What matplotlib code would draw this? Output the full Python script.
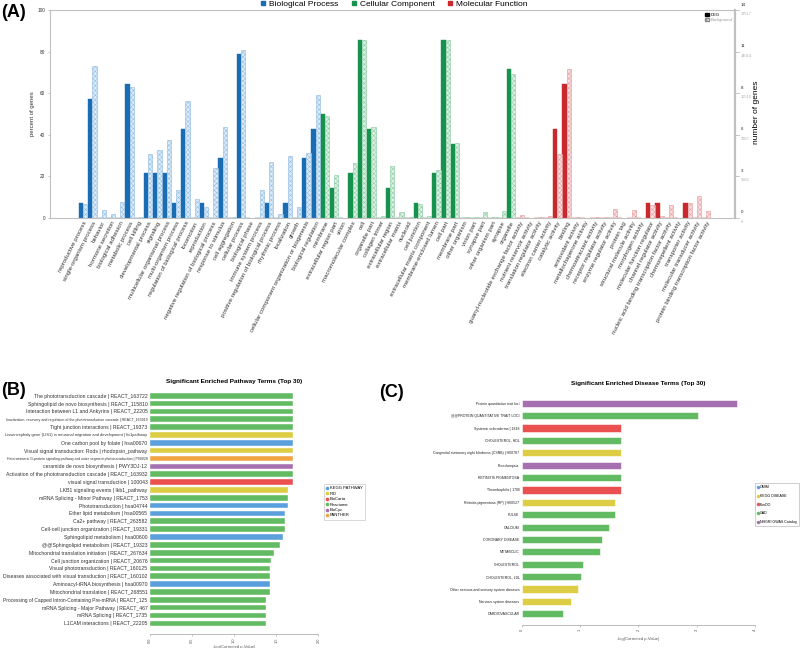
import matplotlib
matplotlib.use('Agg')
import matplotlib.pyplot as plt
from matplotlib.patches import Patch
from matplotlib.lines import Line2D
import numpy as np

plt.rcParams['font.family'] = ['Liberation Sans', 'DejaVu Sans']
plt.rcParams['hatch.linewidth'] = 0.35

# ---------------- panel A data (GO level 2) ----------------
bp_terms = ['reproductive process', 'single-organism process', 'behavior', 'hormone secretion',
            'biological adhesion', 'metabolic process', 'cell killing', 'developmental process',
            'signaling', 'multicellular organismal process', 'multi-organism process',
            'regulation of biological process', 'locomotion', 'reproduction',
            'negative regulation of biological process', 'response to stimulus', 'cell aggregation',
            'cellular process', 'biological phase', 'immune system process',
            'positive regulation of biological process', 'rhythmic process', 'localization', 'growth',
            'cellular component organization or biogenesis', 'biological regulation']
bp_deg = [7.1, 57.1, 0, 0, 0, 64.3, 0, 21.4, 21.4, 21.4, 7.1, 42.9, 0, 7.1, 0, 28.6, 0,
          78.6, 0, 0, 7.1, 0, 7.1, 0, 28.6, 42.9]
bp_bg = [6.6, 73.0, 3.7, 1.8, 7.7, 62.8, 0.5, 30.7, 32.7, 37.3, 13.3, 56.3, 9.0, 5.0, 23.8, 43.7, 0.3,
         80.7, 0, 13.2, 26.8, 1.8, 29.7, 5.0, 31.2, 58.9]

cc_terms = ['membrane', 'extracellular region part', 'virion', 'macromolecular complex', 'cell',
            'organelle part', 'collagen trimer', 'extracellular region', 'extracellular matrix',
            'nucleoid', 'cell junction', 'extracellular matrix component', 'membrane-enclosed lumen',
            'cell part', 'membrane part', 'other organism', 'virion part', 'synapse part',
            'other organism part', 'synapse', 'organelle']
cc_deg = [50.0, 14.3, 0, 21.4, 85.7, 42.9, 0, 14.3, 0, 0, 7.1, 0, 21.4, 85.7, 35.7, 0, 0, 0, 0, 0, 71.4]
cc_bg = [48.8, 20.7, 0, 26.3, 85.5, 43.8, 0.8, 24.7, 2.6, 0.3, 6.6, 0.8, 23.0, 85.4, 35.8, 0.2, 0.2,
         2.6, 0.2, 3.4, 69.2]

mf_terms = ['guanyl-nucleotide exchange factor activity', 'nutrient reservoir activity',
            'translation regulator activity', 'electron carrier activity', 'catalytic activity',
            'binding', 'antioxidant activity', 'metallochaperone activity', 'chemoattractant activity',
            'receptor regulator activity', 'enzyme regulator activity', 'protein tag',
            'structural molecule activity', 'morphogen activity', 'molecular function regulator',
            'channel regulator activity', 'nucleic acid binding transcription factor activity',
            'chemorepellent activity', 'transporter activity', 'molecular transducer activity',
            'protein binding transcription factor activity']
mf_deg = [0, 0, 0, 0, 42.9, 64.3, 0, 0, 0, 0, 0, 0, 0, 0, 7.1, 7.1, 0, 0, 7.1, 0, 0]
mf_bg = [1.3, 0, 0.2, 0.8, 30.5, 71.6, 0.5, 0, 0.2, 0.3, 4.2, 0, 3.7, 0, 6.0, 0.8, 6.1, 0, 6.9, 10.4, 3.2]

right_deg_labels = ['0', '3', '6', '8', '11', '14']
right_bg_labels = ['0', '3503', '7007', '10510', '14014', '17517']

# ---------------- panel B data (pathways) ----------------
pw_terms = ['The phototransduction cascade | REACT_163722',
            'Sphingolipid de novo biosynthesis | REACT_115810',
            'Interaction between L1 and Ankyrins | REACT_22205',
            'Inactivation, recovery and regulation of the phototransduction cascade | REACT_163919',
            'Tight junction interactions | REACT_19373',
            'Lissencephaly gene (LIS1) in neuronal migration and development | lis1pathway',
            'One carbon pool by folate | hsa00670',
            'Visual signal transduction: Rods | rhodopsin_pathway',
            'Heterotrimeric G-protein signaling pathway-rod outer segment phototransduction | P00028',
            'ceramide de novo biosynthesis | PWY3DJ-12',
            'Activation of the phototransduction cascade | REACT_163932',
            'visual signal transduction | 100043',
            'LKB1 signaling events | lkb1_pathway',
            'mRNA Splicing - Minor Pathway | REACT_1753',
            'Phototransduction | hsa04744',
            'Ether lipid metabolism | hsa00565',
            'Ca2+ pathway | REACT_263582',
            'Cell-cell junction organization | REACT_19331',
            'Sphingolipid metabolism | hsa00600',
            '@@Sphingolipid metabolism | REACT_19323',
            'Mitochondrial translation initiation | REACT_267634',
            'Cell junction organization | REACT_20676',
            'Visual phototransduction | REACT_160125',
            'Diseases associated with visual transduction | REACT_160102',
            'Aminoacyl-tRNA biosynthesis | hsa00970',
            'Mitochondrial translation | REACT_268551',
            'Processing of Capped Intron-Containing Pre-mRNA | REACT_125',
            'mRNA Splicing - Major Pathway | REACT_467',
            'mRNA Splicing | REACT_1735',
            'L1CAM interactions | REACT_22205']
pw_vals = [1.70] * 12 + [1.64, 1.64, 1.64, 1.61, 1.61, 1.61, 1.58, 1.55, 1.48, 1.44,
                         1.43, 1.43, 1.43, 1.43, 1.38, 1.38, 1.38, 1.38]
pw_src = ['Reactome'] * 5 + ['PID', 'KEGG PATHWAY', 'PID', 'PANTHER', 'BioCyc', 'Reactome', 'BioCarta',
                             'PID', 'Reactome', 'KEGG PATHWAY', 'KEGG PATHWAY', 'Reactome', 'Reactome',
                             'KEGG PATHWAY', 'Reactome', 'Reactome', 'Reactome', 'Reactome', 'Reactome',
                             'KEGG PATHWAY', 'Reactome', 'Reactome', 'Reactome', 'Reactome', 'Reactome']
pw_db = ['KEGG PATHWAY', 'PID', 'BioCarta', 'Reactome', 'BioCyc', 'PANTHER']

# ---------------- panel C data (diseases) ----------------
ds_terms = ['Protein quantitative trait loci', '@@PROTEIN QUANTITATIVE TRAIT LOCI',
            'Systemic scleroderma | 1818', 'CHOLESTEROL, HDL',
            'Congenital stationary night blindness (CSNB) | H00787', 'Preeclampsia',
            'RETINITIS PIGMENTOSA', 'Thrombophilia | 1706', 'Retinitis pigmentosa (RP) | H00527',
            'PULSE', 'CALCIUM', 'CORONARY DISEASE', 'METABOLIC', 'CHOLESTEROL', 'CHOLESTEROL, LDL',
            'Other nervous and sensory system diseases', 'Nervous system diseases', 'CARDIOVASCULAR']
ds_vals = [3.69, 3.03, 1.70, 1.70, 1.70, 1.70, 1.70, 1.70, 1.60, 1.60, 1.49, 1.37, 1.34, 1.06,
           1.02, 0.97, 0.85, 0.70]
ds_src = ['NHGRI GWAS Catalog', 'GAD', 'FunDO', 'GAD', 'KEGG DISEASE', 'NHGRI GWAS Catalog', 'GAD',
          'FunDO', 'KEGG DISEASE', 'GAD', 'GAD', 'GAD', 'GAD', 'GAD', 'GAD', 'KEGG DISEASE',
          'KEGG DISEASE', 'GAD']
ds_db = ['OMIM', 'KEGG DISEASE', 'FunDO', 'GAD', 'NHGRI GWAS Catalog']

db_colors = {'KEGG PATHWAY': '#5ba0dc', 'PID': '#dccd45', 'BioCarta': '#ea5050', 'Reactome': '#62bb62',
             'BioCyc': '#a66fb0', 'PANTHER': '#f0a444', 'OMIM': '#5ba0dc', 'KEGG DISEASE': '#dccd45',
             'FunDO': '#ea5050', 'GAD': '#62bb62', 'NHGRI GWAS Catalog': '#a66fb0'}

fig = plt.figure(figsize=(8, 6.48), dpi=100)

# ================= panel A =================
axA = fig.add_axes([0.0625, 0.664, 0.85625, 0.3206])
groups = [(bp_terms, bp_deg, bp_bg, '#1a6db3', '#8dbbe2', '#dcebf7'),
          (cc_terms, cc_deg, cc_bg, '#17924e', '#86cba0', '#dcf0e3'),
          (mf_terms, mf_deg, mf_bg, '#c9282d', '#e79a9c', '#f8dede')]
w = 0.46
labels = []
start = 0
for terms, deg, bg, c, hc, fc in groups:
    xs = np.arange(start, start + len(terms))
    axA.bar(xs - w / 2, deg, width=w, color=c, edgecolor=c, linewidth=0.3)
    axA.bar(xs + w / 2, bg, width=w, facecolor=fc, edgecolor=hc, hatch='xxxxxxx', linewidth=0.4)
    labels += terms
    start += len(terms)

axA.set_xlim(-3.55, 70.1)
axA.set_ylim(0, 100)
axA.set_xticks(np.arange(len(labels)))
axA.set_xticklabels(labels, rotation=63, ha='right', rotation_mode='anchor', fontsize=4.4, color='#333333')
axA.tick_params(axis='x', length=0, pad=2)
axA.set_yticks(np.arange(0, 101, 20))
axA.tick_params(axis='y', labelsize=3.4, length=1.5, width=0.4, color='#999999', labelcolor='#333333', pad=2)
axA.set_ylabel('percent of genes', fontsize=4.3, labelpad=2, color='#333333')
for s in axA.spines.values():
    s.set_color('#c0c0c0')
    s.set_linewidth(0.8)
axA.spines['right'].set_linewidth(1.6)

for k, yv in enumerate(np.arange(0, 101, 20)):
    axA.plot([1.0, 1.006], [yv, yv], transform=axA.get_yaxis_transform(), color='#999999',
             lw=0.4, clip_on=False)
    axA.annotate(right_deg_labels[k], (1.0, yv), xycoords=axA.get_yaxis_transform(),
                 xytext=(4, 2.5), textcoords='offset points', fontsize=3.2, color='#222222', va='bottom')
    axA.annotate(right_bg_labels[k], (1.0, yv), xycoords=axA.get_yaxis_transform(),
                 xytext=(4, -1.5), textcoords='offset points', fontsize=2.8, color='#aaaaaa', va='top')
fig.text(0.946, 0.826, 'number of genes', rotation=90, fontsize=6, va='center', ha='center')

leg_in = axA.legend(handles=[Patch(facecolor='black', edgecolor='black', label='DEG'),
                             Patch(facecolor='white', edgecolor='#888888', hatch='xxxxx',
                                   label='Background')],
                    loc='upper right', fontsize=3, frameon=False, handlelength=0.8, handleheight=0.8,
                    handletextpad=0.4, borderaxespad=0.3, labelspacing=0.2)
for t in leg_in.get_texts()[1:]:
    t.set_color('#999999')

fig.legend(handles=[Line2D([], [], ls='', marker='s', ms=3.0, color=g[3]) for g in groups],
           labels=['Biological Process', 'Cellular Component', 'Molecular Function'],
           loc='center', bbox_to_anchor=(0.492, 0.994), ncol=3, fontsize=6.0, frameon=False,
           handletextpad=0.3, columnspacing=1.5, handlelength=0.8)
fig.text(0.002, 0.98, '(A)', fontsize=13, fontweight='bold', va='center')

# ================= panel B =================
axB = fig.add_axes([0.1869, 0.0211, 0.2111, 0.3755])
yB = np.arange(len(pw_terms))
axB.barh(yB, pw_vals, height=0.72, color=[db_colors[s] for s in pw_src], edgecolor='white', linewidth=0.3)
axB.set_ylim(30.4, -0.6)
axB.set_xlim(0, 2.0)
axB.set_yticks(yB)
axB.set_yticklabels(pw_terms, fontsize=3.7, color='#333333')
axB.tick_params(axis='y', length=0, pad=1.5)
axB.set_xticks([0, 0.5, 1.0, 1.5, 2.0])
axB.set_xticklabels(['0.0', '0.5', '1.0', '1.5', '2.0'], rotation=90, fontsize=2.8, color='#555555')
axB.tick_params(axis='x', length=1.5, width=0.4, color='#999999', pad=1)
for s in ['left', 'top', 'right']:
    axB.spines[s].set_visible(False)
axB.spines['bottom'].set_color('#b0b0b0')
axB.spines['bottom'].set_linewidth(0.6)
axB.set_xlabel('-log(Corrected p-Value)', fontsize=3, labelpad=1, color='#555555')
axB.set_title('Significant Enriched Pathway Terms (Top 30)', fontsize=4.6, fontweight='bold', pad=6)
fig.legend(handles=[Line2D([], [], ls='', marker='o', ms=1.6, color=db_colors[d]) for d in pw_db],
           labels=pw_db, loc='upper left', bbox_to_anchor=(0.4025, 1 - 482 / 648), fontsize=3,
           frameon=True, edgecolor='#bbbbbb', fancybox=False, handletextpad=0.3, handlelength=0.6,
           labelspacing=0.35, borderpad=0.5).get_frame().set_linewidth(0.5)
fig.text(0.002, 0.397, '(B)', fontsize=13, fontweight='bold', va='center')

# ================= panel C =================
axC = fig.add_axes([0.6521, 0.0355, 0.2916, 0.3556])
yC = np.arange(len(ds_terms))
axC.barh(yC, ds_vals, height=0.58, color=[db_colors[s] for s in ds_src], edgecolor='white', linewidth=0.4)
axC.set_ylim(17.9, -0.7)
axC.set_xlim(0, 4)
axC.set_yticks(yC)
axC.set_yticklabels(ds_terms, fontsize=2.5, color='#222222')
axC.tick_params(axis='y', length=0, pad=1.5)
axC.set_xticks([0, 1, 2, 3, 4])
axC.set_xticklabels(['0', '1', '2', '3', '4'], rotation=90, fontsize=3, color='#555555')
axC.tick_params(axis='x', length=1.5, width=0.4, color='#999999', pad=1.5)
for s in ['left', 'top', 'right']:
    axC.spines[s].set_visible(False)
axC.spines['bottom'].set_color('#b0b0b0')
axC.spines['bottom'].set_linewidth(0.6)
axC.set_xlabel('-log(Corrected p-Value)', fontsize=3, labelpad=4, color='#555555')
axC.set_title('Significant Enriched Disease Terms (Top 30)', fontsize=4.6, fontweight='bold', pad=7)
fig.legend(handles=[Line2D([], [], ls='', marker='o', ms=1.5, color=db_colors[d]) for d in ds_db],
           labels=ds_db, loc='upper left', bbox_to_anchor=(0.944, 1 - 483 / 648), fontsize=2.6,
           frameon=True, edgecolor='#aaaaaa', fancybox=False, handletextpad=0.25, handlelength=0.5,
           labelspacing=1.3, borderpad=0.6, borderaxespad=0).get_frame().set_linewidth(0.5)
fig.text(0.474, 0.395, '(C)', fontsize=13, fontweight='bold', va='center')

# long pathway names are squeezed so they stay inside the figure
fig.canvas.draw()
r = fig.canvas.get_renderer()
max_w = 144
for t in axB.get_yticklabels():
    bw = t.get_window_extent(r).width
    if bw > max_w:
        t.set_fontsize(t.get_fontsize() * max_w / bw)

fig.savefig('out.png', dpi=100)
